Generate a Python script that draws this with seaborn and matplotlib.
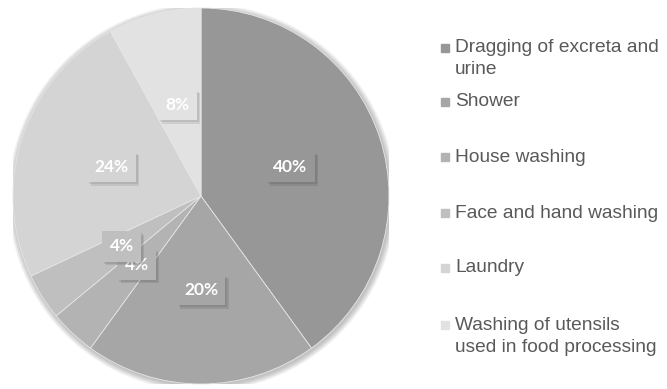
import matplotlib
matplotlib.use("Agg")
import matplotlib.pyplot as plt
import matplotlib.patches as mpatches
import matplotlib.patheffects as pe
import seaborn as sns
import numpy as np

categories = ["Dragging of excreta and\nurine", "Shower", "House washing",
              "Face and hand washing", "Laundry",
              "Washing of utensils\nused in food processing"]
values = [40, 20, 4, 4, 24, 8]
colors = ["#979797", "#a6a6a6", "#b3b3b3", "#bfbfbf", "#d4d4d4", "#e2e2e2"]

sns.set_theme(style="white")
plt.rcParams['font.family'] = ['Liberation Sans', 'DejaVu Sans']

W, H = 667, 389
fig = plt.figure(figsize=(W / 100, H / 100), dpi=100)
cx, cy, r = 201, 196, 188
ax = fig.add_axes([(cx - r) / W, (H - cy - r) / H, 2 * r / W, 2 * r / H])

# soft shadow halo
for k in range(8):
    rr = 1.0 + 0.004 * (k + 1)
    ax.add_patch(mpatches.Circle((0.006, -0.008), rr, color="#000000",
                                 alpha=0.03, lw=0, zorder=0))

wedges, _ = ax.pie(values, colors=colors, startangle=90, counterclock=False,
                   radius=1.0, wedgeprops=dict(edgecolor="#e6e6e6", linewidth=0.6),
                   frame=False)
ax.set_xlim(-1, 1)
ax.set_ylim(-1, 1)
ax.set_aspect("equal")
ax.axis("off")

total = sum(values)
ang = 90.0
for i, v in enumerate(values):
    mid = ang - 360 * v / total / 2
    ang -= 360 * v / total
    x = 0.5 * np.cos(np.radians(mid))
    y = 0.5 * np.sin(np.radians(mid))
    ax.text(x, y, f"{v}%", ha="center", va="center", color="white",
            fontsize=12.5, fontweight="bold", family=["Lato", "DejaVu Sans"],
            zorder=5,
            bbox=dict(boxstyle="square,pad=0.42", facecolor=colors[i],
                      edgecolor="none",
                      path_effects=[pe.SimplePatchShadow(offset=(2.5, -2.5), alpha=0.12),
                                    pe.SimplePatchShadow(offset=(1.5, -1.5), alpha=0.12),
                                    pe.Normal()]))

# legend
ys = [48, 102, 157, 213, 268, 325]
for i, (lab, y) in enumerate(zip(categories, ys)):
    fig.patches.append(mpatches.Rectangle((441 / W, (H - y - 4) / H), 8 / W, 8 / H,
                                          transform=fig.transFigure, color=colors[i],
                                          figure=fig))
    lines = lab.split("\n")
    for j, line in enumerate(lines):
        fig.text(455 / W, (H - y - 22 * j) / H, line, ha="left", va="center",
                 fontsize=13.8, color="#595959")

fig.savefig("out.png", dpi=100, facecolor="white")
